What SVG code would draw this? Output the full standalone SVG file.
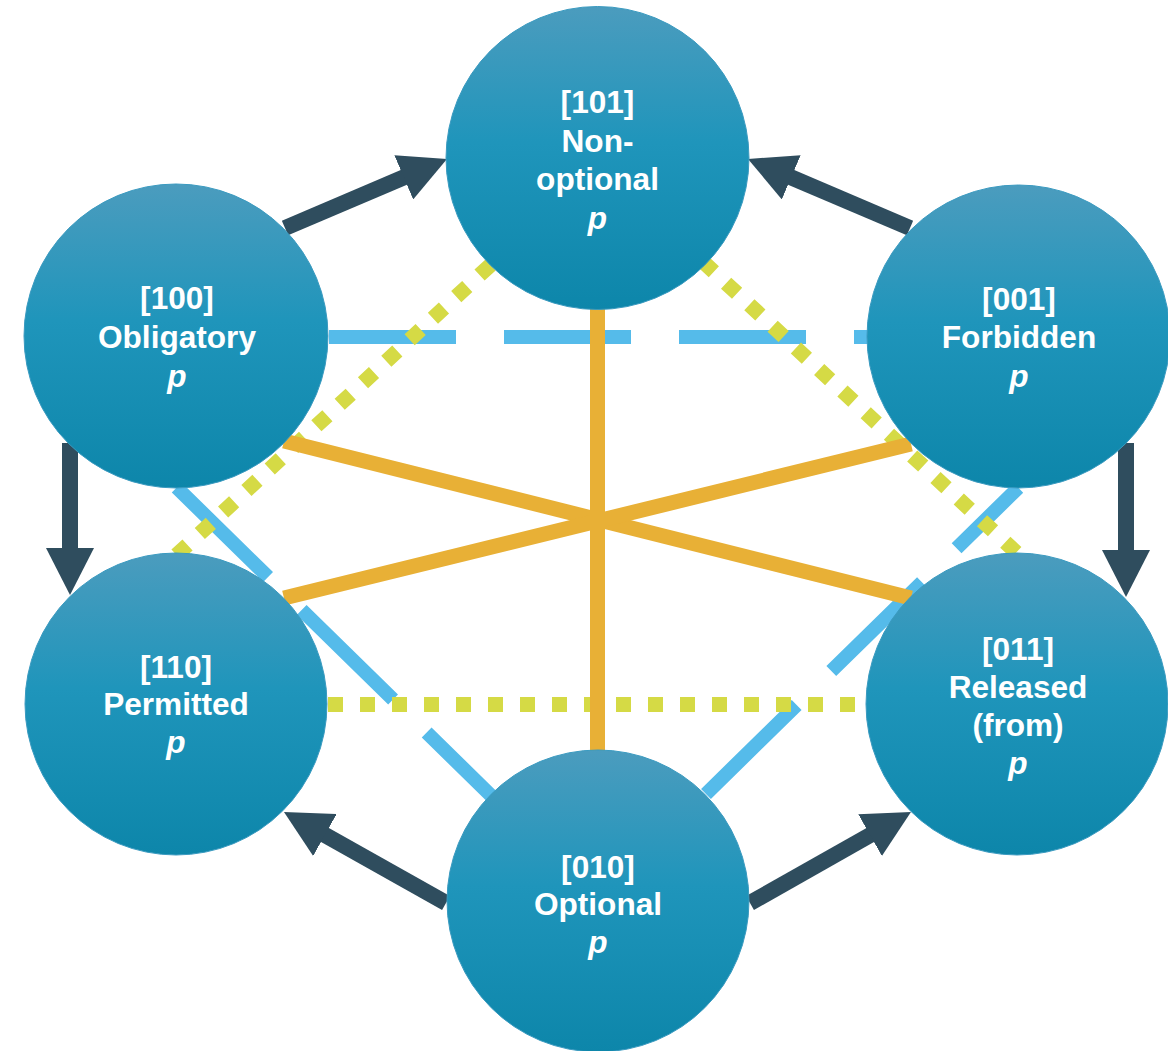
<svg xmlns="http://www.w3.org/2000/svg" width="1168" height="1051" viewBox="0 0 1168 1051">
<defs>
<linearGradient id="nodeGrad" x1="0" y1="0" x2="0" y2="1">
<stop offset="0" stop-color="#4b9cbe"/>
<stop offset="0.45" stop-color="#1f95bb"/>
<stop offset="1" stop-color="#0d86aa"/>
</linearGradient>
<marker id="ah" markerUnits="userSpaceOnUse" markerWidth="48" markerHeight="48" viewBox="0 0 48 48" refX="2" refY="24" orient="auto">
<path d="M0,0 L47,24 L0,48 z" fill="#2f4d5e"/>
</marker>
<style>
.node circle{fill:url(#nodeGrad);stroke:#3a9ac0;stroke-width:1}
.node text{font-family:"Liberation Sans",Arial,sans-serif;font-weight:bold;font-size:31.6px;fill:#ffffff;text-anchor:middle}
.node text .it{font-style:italic}
.blue{stroke:#55bbea;stroke-width:14;fill:none;stroke-linecap:butt}
.yel{stroke:#d5da45;stroke-width:15;fill:none;stroke-linecap:butt}
.org{stroke:#e8b036;stroke-width:15;fill:none;stroke-linecap:butt}
.arr{stroke:#2f4d5e;stroke-width:16;fill:none;stroke-linecap:butt;marker-end:url(#ah)}
</style>
</defs>
<rect width="1168" height="1051" fill="#ffffff"/>
<g id="connectors">
<line class="blue" x1="329" y1="337" x2="900" y2="337" stroke-dasharray="127 48"/>
<line class="blue" x1="176.7" y1="487.5" x2="520" y2="824" stroke-dasharray="128 47"/>
<line class="blue" x1="1018.3" y1="487.7" x2="689.9" y2="809.7" stroke-dasharray="127 48.5" stroke-dashoffset="40.6"/>
<line class="yel" x1="328" y1="704.5" x2="880" y2="704.5" stroke-dasharray="15 17"/>
<line class="yel" x1="176.5" y1="555.1" x2="529" y2="229.4" stroke-dasharray="15 16.74"/>
<line class="yel" x1="656.3" y1="218.4" x2="1060" y2="593" stroke-dasharray="15 16.74"/>
<line class="org" x1="284" y1="441" x2="911" y2="598"/>
<line class="org" x1="284" y1="598" x2="911" y2="444"/>
<line class="org" x1="597.5" y1="305" x2="597.5" y2="755"/>
<line class="arr" x1="285" y1="228" x2="405.6" y2="176.6"/>
<line class="arr" x1="910" y1="228" x2="789.4" y2="176.6"/>
<line class="arr" x1="70" y1="443" x2="70" y2="550"/>
<line class="arr" x1="1126" y1="443" x2="1126" y2="552"/>
<line class="arr" x1="446" y1="903" x2="323.2" y2="834"/>
<line class="arr" x1="750" y1="903" x2="871.8" y2="834.1"/>
</g>
<g id="node-101" class="node">
<circle cx="597.5" cy="158" r="151.5"/>
<text x="597.5" y="113">[101]</text>
<text x="597.5" y="152">Non-</text>
<text x="597.5" y="190">optional</text>
<text x="597.5" y="229"><tspan class="it">p</tspan></text>
</g>
<g id="node-100" class="node">
<circle cx="176" cy="336" r="152"/>
<text x="177" y="309">[100]</text>
<text x="177" y="348">Obligatory</text>
<text x="177" y="387"><tspan class="it">p</tspan></text>
</g>
<g id="node-001" class="node">
<circle cx="1018.5" cy="336.5" r="151.5"/>
<text x="1019" y="310">[001]</text>
<text x="1019" y="348">Forbidden</text>
<text x="1019" y="387"><tspan class="it">p</tspan></text>
</g>
<g id="node-110" class="node">
<circle cx="176" cy="704" r="151"/>
<text x="176" y="678">[110]</text>
<text x="176" y="715">Permitted</text>
<text x="176" y="753"><tspan class="it">p</tspan></text>
</g>
<g id="node-011" class="node">
<circle cx="1017" cy="704" r="151"/>
<text x="1018" y="660">[011]</text>
<text x="1018" y="698">Released</text>
<text x="1018" y="736">(from)</text>
<text x="1018" y="774"><tspan class="it">p</tspan></text>
</g>
<g id="node-010" class="node">
<circle cx="598" cy="901" r="151"/>
<text x="598" y="878">[010]</text>
<text x="598" y="915">Optional</text>
<text x="598" y="953"><tspan class="it">p</tspan></text>
</g>
</svg>
